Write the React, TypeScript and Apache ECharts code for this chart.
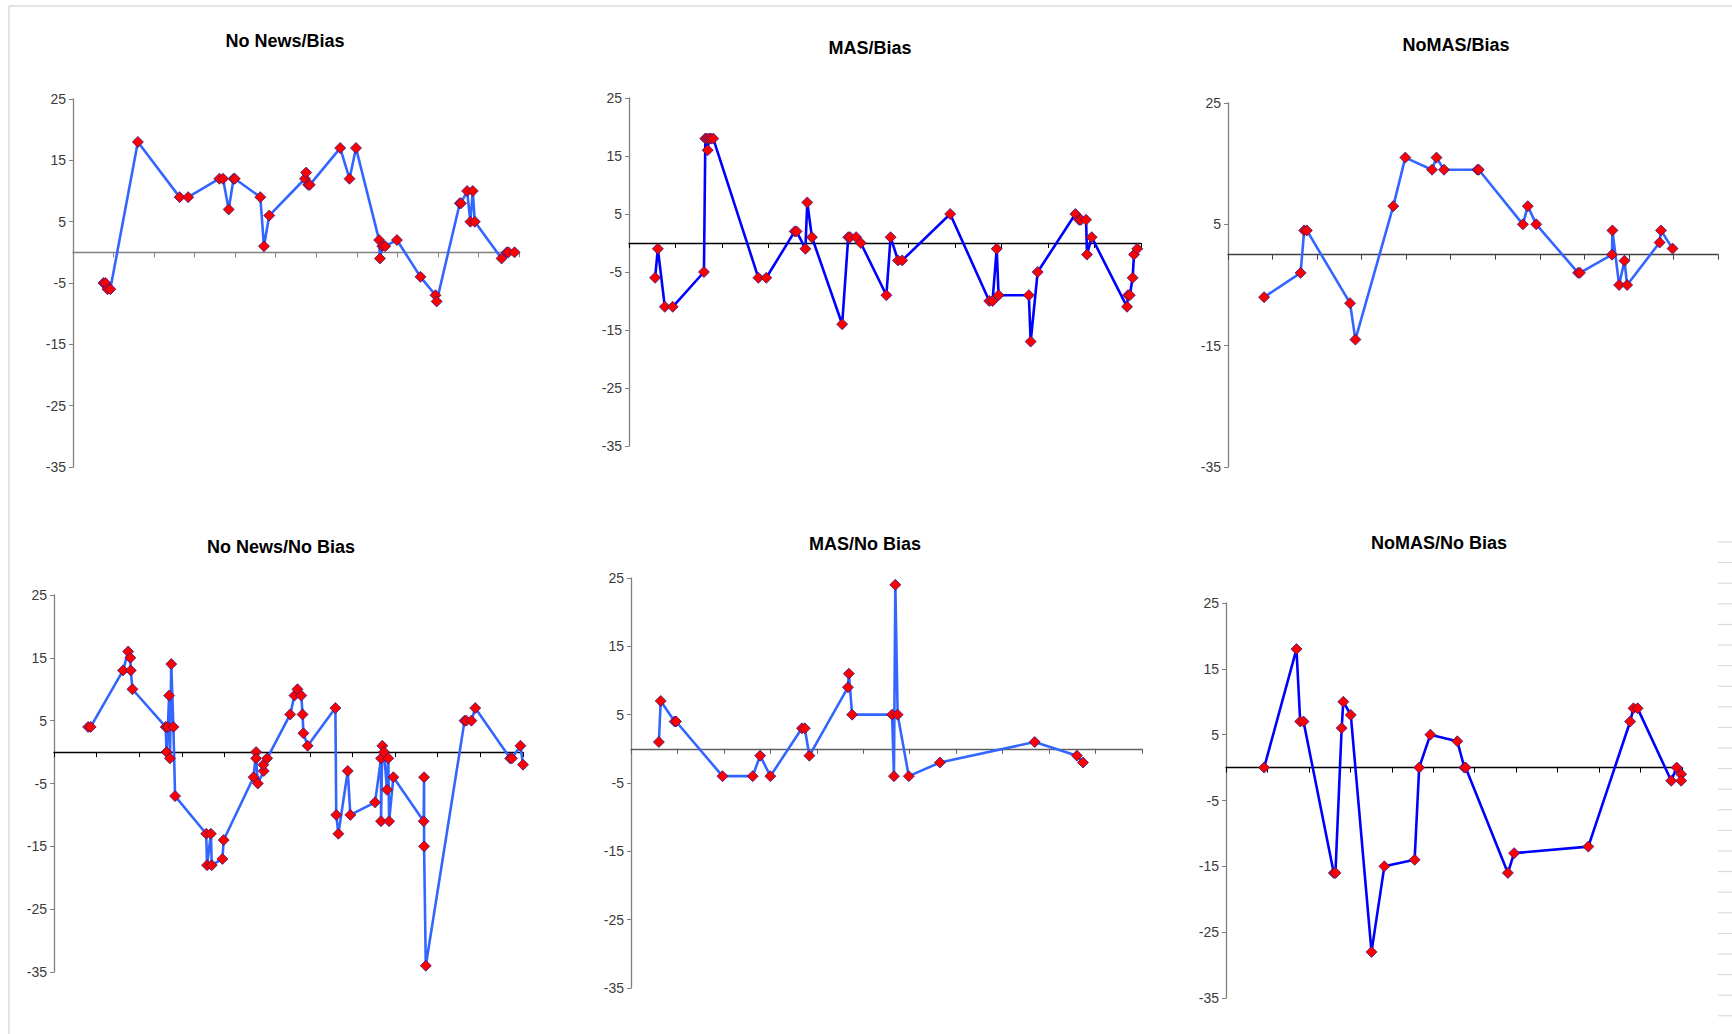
import React, { useEffect, useRef } from "react";
import * as echarts from "echarts";

// ---------- data (x in axis-tick units, y values) ----------
const noNewsBiasX = [0.75, 0.8, 0.85, 0.92, 1.6, 2.63, 2.84, 3.61, 3.7, 3.84, 3.96, 3.99, 4.62, 4.71, 4.84, 5.72, 5.75, 5.8, 5.84, 6.59, 6.82, 6.98, 7.55, 7.57, 7.63, 7.7, 7.99, 8.57, 8.94, 8.97, 9.54, 9.57, 9.72, 9.8, 9.86, 9.91, 10.57, 10.7, 10.74, 10.89];
const noNewsBiasY = [-5, -5, -6, -6, 18, 9, 9, 12, 12, 7, 12, 12, 9, 1, 6, 12, 13, 11, 11, 17, 12, 17, 2, -1, 1, 1, 2, -4, -7, -8, 8, 8, 10, 5, 10, 5, -1, 0, 0, 0];

const masBiasX = [0.56, 0.62, 0.77, 0.94, 1.61, 1.64, 1.67, 1.69, 1.72, 1.76, 1.81, 2.78, 2.95, 3.56, 3.6, 3.79, 3.83, 3.93, 4.58, 4.71, 4.75, 4.88, 4.98, 5.53, 5.62, 5.78, 5.87, 6.9, 7.74, 7.81, 7.9, 7.94, 8.59, 8.63, 8.78, 9.59, 9.67, 9.71, 9.82, 9.84, 9.94, 10.7, 10.72, 10.76, 10.82, 10.85, 10.92];
const masBiasY = [-6, -1, -11, -11, -5, 18, 18, 16, 18, 18, 18, -6, -6, 2, 2, -1, 7, 1, -14, 1, 1, 1, 0, -9, 1, -3, -3, 5, -10, -10, -1, -9, -9, -17, -5, 5, 4, 4, 4, -2, 1, -11, -9, -9, -6, -2, -1];

const noMasBiasX = [0.81, 1.63, 1.71, 1.77, 2.74, 2.86, 3.71, 3.98, 4.58, 4.68, 4.85, 5.6, 5.63, 6.62, 6.73, 6.92, 7.86, 7.9, 8.62, 8.63, 8.78, 8.9, 8.96, 9.69, 9.72, 9.98];
const noMasBiasY = [-7, -3, 4, 4, -8, -14, 8, 16, 14, 16, 14, 14, 14, 5, 8, 5, -3, -3, 0, 4, -5, -1, -5, 2, 4, 1];

const noNewsNoBiasX = [0.8, 0.86, 1.62, 1.74, 1.79, 1.8, 1.84, 2.62, 2.64, 2.67, 2.7, 2.72, 2.75, 2.8, 2.84, 3.57, 3.59, 3.68, 3.7, 3.95, 3.98, 4.68, 4.74, 4.74, 4.78, 4.92, 4.91, 5.0, 5.54, 5.64, 5.71, 5.8, 5.83, 5.85, 5.95, 6.6, 6.62, 6.67, 6.89, 6.95, 7.53, 7.67, 7.67, 7.7, 7.74, 7.81, 7.84, 7.86, 7.96, 8.67, 8.68, 8.68, 8.72, 9.63, 9.67, 9.79, 9.88, 10.7, 10.74, 10.94, 11.0];
const noNewsNoBiasY = [4, 4, 13, 16, 15, 13, 10, 4, 0, 4, 9, -1, 14, 4, -7, -13, -18, -13, -18, -17, -14, -4, 0, -1, -5, -3, -2, -1, 6, 9, 10, 9, 6, 3, 1, 7, -10, -13, -3, -10, -8, -1, -11, 1, 0, -6, -1, -11, -4, -11, -4, -15, -34, 5, 5, 5, 7, -1, -1, 1, -2];

const masNoBiasX = [0.6, 0.64, 0.94, 0.97, 1.97, 2.62, 2.78, 3.0, 3.68, 3.74, 3.84, 4.67, 4.69, 4.76, 5.62, 5.66, 5.69, 5.74, 5.98, 6.65, 8.69, 9.6, 9.73];
const masNoBiasY = [1, 7, 4, 4, -4, -4, -1, -4, 3, 3, -1, 9, 11, 5, 5, -4, 24, 5, -4, -2, 1, -1, -2];

const noMasNoBiasX = [0.92, 1.7, 1.79, 1.87, 2.6, 2.64, 2.79, 2.83, 3.01, 3.51, 3.82, 4.55, 4.66, 4.93, 5.58, 5.75, 5.78, 6.8, 6.95, 8.74, 9.75, 9.83, 9.93, 10.74, 10.87, 10.98, 10.98];
const noMasNoBiasY = [0, 18, 7, 7, -16, -16, 6, 10, 8, -28, -15, -14, 0, 5, 4, 0, 0, -16, -13, -12, 7, 9, 9, -2, 0, -1, -2];

const titles = ["No News/Bias", "MAS/Bias", "NoMAS/Bias", "No News/No Bias", "MAS/No Bias", "NoMAS/No Bias"];
const yTicks10 = [-35, -25, -15, -5, 5, 15, 25];
const yTicks20 = [-35, -15, 5, 25];

// ---------- layout ----------
const panels = [
  { x: noNewsBiasX, y: noNewsBiasY, left: 73, right: 519, top: 99, bottom: 467, color: "#3366FF", ticks: yTicks10, xAxisColor: "#808080", tx: 285, ty: 41 },
  { x: masBiasX, y: masBiasY, left: 629, right: 1141, top: 98, bottom: 446, color: "#0000FF", ticks: yTicks10, xAxisColor: "#000000", tx: 870, ty: 48 },
  { x: noMasBiasX, y: noMasBiasY, left: 1228, right: 1718, top: 103, bottom: 467, color: "#3366FF", ticks: yTicks20, xAxisColor: "#404040", tx: 1456, ty: 45 },
  { x: noNewsNoBiasX, y: noNewsNoBiasY, left: 54, right: 523, top: 595, bottom: 972, color: "#3366FF", ticks: yTicks10, xAxisColor: "#000000", tx: 281, ty: 547 },
  { x: masNoBiasX, y: masNoBiasY, left: 631, right: 1142, top: 578, bottom: 988, color: "#3366FF", ticks: yTicks10, xAxisColor: "#606060", tx: 865, ty: 544 },
  { x: noMasNoBiasX, y: noMasNoBiasY, left: 1226, right: 1682, top: 603, bottom: 998, color: "#0000FF", ticks: yTicks10, xAxisColor: "#000000", tx: 1439, ty: 543 },
];

export default function App() {
  const ref = useRef<HTMLDivElement>(null);
  useEffect(() => {
    if (!ref.current) return;
    const chart = echarts.init(ref.current, null, { renderer: "svg" });

    const grid = panels.map((p) => ({
      left: p.left,
      top: p.top,
      width: p.right - p.left,
      height: p.bottom - p.top,
      containLabel: false,
    }));
    const xAxis = panels.map((p, i) => ({
      type: "value",
      gridIndex: i,
      min: 0,
      max: 11,
      interval: 1,
      axisLine: { show: true, onZero: true, lineStyle: { color: p.xAxisColor, width: 1.3 } },
      axisTick: { show: true, length: 5, inside: false, lineStyle: { color: p.xAxisColor } },
      axisLabel: { show: false },
      splitLine: { show: false },
    }));
    const yAxis = panels.map((p, i) => ({
      type: "value",
      gridIndex: i,
      min: -35,
      max: 25,
      axisLine: { show: true, onZero: false, lineStyle: { color: "#808080", width: 1.3 } },
      axisTick: { show: true, length: 4, customValues: p.ticks, lineStyle: { color: "#808080" } },
      axisLabel: {
        show: true,
        customValues: p.ticks,
        fontFamily: "'Liberation Sans', Arial, sans-serif",
        fontSize: 14,
        color: "#3a3a3a",
        margin: 7,
      },
      splitLine: { show: false },
    }));
    const series = panels.map((p, i) => ({
      type: "line",
      xAxisIndex: i,
      yAxisIndex: i,
      data: p.x.map((xv, k) => [xv, p.y[k]]),
      symbol: "diamond",
      symbolSize: 11,
      showAllSymbol: true,
      lineStyle: { color: p.color, width: 2.6 },
      itemStyle: { color: "#FF0000", borderColor: "#2a1a8a", borderWidth: 0.8 },
      z: 3,
    }));

    const graphic: any[] = [];
    graphic.push({ type: "line", shape: { x1: 9, y1: 6, x2: 1732, y2: 6 }, style: { stroke: "#c8c8c8", lineWidth: 1 } });
    graphic.push({ type: "line", shape: { x1: 9, y1: 6, x2: 9, y2: 1034 }, style: { stroke: "#c8c8c8", lineWidth: 1 } });
    for (let k = 0; k < 24; k++) {
      const yy = 542 + k * 20.6;
      graphic.push({ type: "line", shape: { x1: 1718, y1: yy, x2: 1732, y2: yy }, style: { stroke: "#d4d4d4", lineWidth: 1 } });
    }
    panels.forEach((p, i) => {
      graphic.push({
        type: "text",
        x: p.tx,
        y: p.ty,
        style: {
          text: titles[i],
          fontFamily: "'Liberation Sans', Arial, sans-serif",
          fontWeight: "bold",
          fontSize: 18,
          fill: "#000000",
          align: "center",
          verticalAlign: "middle",
        },
      });
    });

    chart.setOption({
      animation: false,
      backgroundColor: "#ffffff",
      grid,
      xAxis,
      yAxis,
      series,
      graphic,
    });
    return () => chart.dispose();
  }, []);
  return (
    <div
      ref={ref}
      style={{ position: "absolute", left: 0, top: 0, width: 1732, height: 1034 }}
    />
  );
}
